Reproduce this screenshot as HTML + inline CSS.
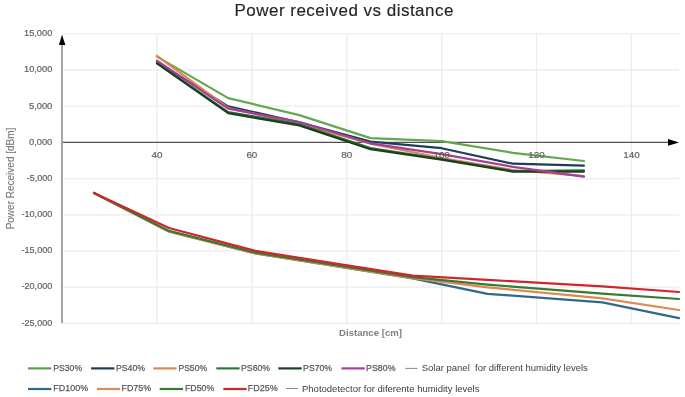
<!DOCTYPE html>
<html><head><meta charset="utf-8"><style>
html,body{margin:0;padding:0;background:#fff;}
body{width:685px;height:397px;overflow:hidden;}
svg{display:block;filter:blur(0.35px);}
text{font-family:"Liberation Sans",sans-serif;}
.tk{font-size:9.9px;fill:#5f5f5f;stroke:#5f5f5f;stroke-width:0.2px;}
.ti{font-size:17px;letter-spacing:0.48px;fill:#262626;stroke:#262626;stroke-width:0.15px;}
.at{font-size:9.6px;font-weight:bold;fill:#7f7f7f;}
.yt{font-size:10px;fill:#7a7a7a;stroke:#7a7a7a;stroke-width:0.15px;}
.lg{font-size:9.9px;fill:#595959;stroke:#595959;stroke-width:0.25px;}
.lg2{font-size:9.5px;fill:#404040;}
</style></head><body>
<svg width="685" height="397" viewBox="0 0 685 397">
<rect width="685" height="397" fill="#fff"/>
<line x1="62" y1="33.83" x2="679" y2="33.83" stroke="#ececec" stroke-width="1.3"/>
<line x1="62" y1="70.02" x2="679" y2="70.02" stroke="#ececec" stroke-width="1.3"/>
<line x1="62" y1="106.21" x2="679" y2="106.21" stroke="#ececec" stroke-width="1.3"/>
<line x1="62" y1="178.59" x2="679" y2="178.59" stroke="#ececec" stroke-width="1.3"/>
<line x1="62" y1="214.78" x2="679" y2="214.78" stroke="#ececec" stroke-width="1.3"/>
<line x1="62" y1="250.97" x2="679" y2="250.97" stroke="#ececec" stroke-width="1.3"/>
<line x1="62" y1="287.16" x2="679" y2="287.16" stroke="#ececec" stroke-width="1.3"/>
<line x1="62" y1="323.35" x2="679" y2="323.35" stroke="#ececec" stroke-width="1.3"/>
<line x1="157.00" y1="33.83" x2="157.00" y2="323.35" stroke="#ececec" stroke-width="1.3"/>
<line x1="251.88" y1="33.83" x2="251.88" y2="323.35" stroke="#ececec" stroke-width="1.3"/>
<line x1="346.76" y1="33.83" x2="346.76" y2="323.35" stroke="#ececec" stroke-width="1.3"/>
<line x1="441.64" y1="33.83" x2="441.64" y2="323.35" stroke="#ececec" stroke-width="1.3"/>
<line x1="536.52" y1="33.83" x2="536.52" y2="323.35" stroke="#ececec" stroke-width="1.3"/>
<line x1="631.40" y1="33.83" x2="631.40" y2="323.35" stroke="#ececec" stroke-width="1.3"/>
<line x1="62" y1="142.40" x2="669" y2="142.40" stroke="#505050" stroke-width="1.2"/>
<polygon points="668,139.1 679,142.4 668,145.7" fill="#000"/>
<line x1="62" y1="44" x2="62" y2="323.35" stroke="#a6a6a6" stroke-width="2"/>
<polygon points="62,34.8 58.9,45.1 65.4,45.1" fill="#000"/>
<polyline points="94.0,192.9 169.0,231.5 255.4,253.5 412.6,278.4 487.6,293.8 602.4,302.4 679.0,318.1" fill="none" stroke="#2f6a8c" stroke-width="2.2" stroke-linejoin="round" stroke-linecap="round"/>
<polyline points="94.0,192.9 169.0,231.6 255.4,253.5 412.6,278.1 487.6,287.3 602.4,298.4 679.0,310.0" fill="none" stroke="#df8a52" stroke-width="2.2" stroke-linejoin="round" stroke-linecap="round"/>
<polyline points="94.0,192.9 169.0,230.9 255.4,252.6 412.6,277.2 487.6,284.6 602.4,293.6 679.0,299.0" fill="none" stroke="#357a37" stroke-width="2.2" stroke-linejoin="round" stroke-linecap="round"/>
<polyline points="94.0,192.9 169.0,228.0 255.4,250.9 412.6,275.7 487.6,279.9 602.4,286.3 679.0,292.0" fill="none" stroke="#d0262b" stroke-width="2.2" stroke-linejoin="round" stroke-linecap="round"/>
<polyline points="157.0,56.6 228.2,98.1 299.3,115.1 370.5,138.1 441.6,141.2 512.8,152.8 583.9,161.0" fill="none" stroke="#63a84e" stroke-width="2.2" stroke-linejoin="round" stroke-linecap="round"/>
<polyline points="157.0,62.0 228.2,106.4 299.3,122.2 370.5,141.6 441.6,148.2 512.8,163.7 583.9,165.6" fill="none" stroke="#213c58" stroke-width="2.2" stroke-linejoin="round" stroke-linecap="round"/>
<polyline points="157.0,55.9 228.2,108.0 299.3,123.7 370.5,143.6 441.6,158.0 512.8,170.0 583.9,176.2" fill="none" stroke="#df8650" stroke-width="2.2" stroke-linejoin="round" stroke-linecap="round"/>
<polyline points="157.0,63.0 228.2,112.2 299.3,124.2 370.5,148.0 441.6,159.0 512.8,171.0 583.9,170.4" fill="none" stroke="#2f7a35" stroke-width="2.2" stroke-linejoin="round" stroke-linecap="round"/>
<polyline points="157.0,63.4 228.2,113.2 299.3,125.4 370.5,149.2 441.6,159.6 512.8,171.6 583.9,171.6" fill="none" stroke="#1c3f1f" stroke-width="2.2" stroke-linejoin="round" stroke-linecap="round"/>
<polyline points="157.0,60.6 228.2,108.6 299.3,122.0 370.5,143.3 441.6,154.2 512.8,166.8 583.9,176.7" fill="none" stroke="#a23e9e" stroke-width="2.2" stroke-linejoin="round" stroke-linecap="round"/>
<text x="52.3" y="36.13" text-anchor="end" class="tk" textLength="28.3" lengthAdjust="spacingAndGlyphs">15,000</text>
<text x="52.3" y="72.32" text-anchor="end" class="tk" textLength="28.3" lengthAdjust="spacingAndGlyphs">10,000</text>
<text x="52.3" y="108.51" text-anchor="end" class="tk" textLength="23.3" lengthAdjust="spacingAndGlyphs">5,000</text>
<text x="52.3" y="144.70" text-anchor="end" class="tk" textLength="23.3" lengthAdjust="spacingAndGlyphs">0,000</text>
<text x="52.3" y="180.89" text-anchor="end" class="tk" textLength="25.6" lengthAdjust="spacingAndGlyphs">-5,000</text>
<text x="52.3" y="217.08" text-anchor="end" class="tk" textLength="30.8" lengthAdjust="spacingAndGlyphs">-10,000</text>
<text x="52.3" y="253.27" text-anchor="end" class="tk" textLength="30.8" lengthAdjust="spacingAndGlyphs">-15,000</text>
<text x="52.3" y="289.46" text-anchor="end" class="tk" textLength="30.8" lengthAdjust="spacingAndGlyphs">-20,000</text>
<text x="52.3" y="325.65" text-anchor="end" class="tk" textLength="30.8" lengthAdjust="spacingAndGlyphs">-25,000</text>
<text x="157.00" y="158.2" text-anchor="middle" class="tk">40</text>
<text x="251.88" y="158.2" text-anchor="middle" class="tk">60</text>
<text x="346.76" y="158.2" text-anchor="middle" class="tk">80</text>
<text x="441.64" y="158.2" text-anchor="middle" class="tk">100</text>
<text x="536.52" y="158.2" text-anchor="middle" class="tk">120</text>
<text x="631.40" y="158.2" text-anchor="middle" class="tk">140</text>
<text x="370.5" y="336" text-anchor="middle" class="at">Distance [cm]</text>
<text transform="translate(14.2,178.5) rotate(-90)" text-anchor="middle" class="yt">Power Received [dBm]</text>
<text x="344.2" y="16" text-anchor="middle" class="ti">Power received vs distance</text>
<line x1="28.0" y1="368.4" x2="51.3" y2="368.4" stroke="#5f9e4a" stroke-width="2.2"/>
<text x="53.3" y="370.79999999999995" class="lg" textLength="28.8" lengthAdjust="spacingAndGlyphs">PS30%</text>
<line x1="91.1" y1="368.4" x2="114.39999999999999" y2="368.4" stroke="#213c58" stroke-width="2.2"/>
<text x="116.0" y="370.79999999999995" class="lg" textLength="29.0" lengthAdjust="spacingAndGlyphs">PS40%</text>
<line x1="153.3" y1="368.4" x2="176.60000000000002" y2="368.4" stroke="#df8650" stroke-width="2.2"/>
<text x="178.4" y="370.79999999999995" class="lg" textLength="28.7" lengthAdjust="spacingAndGlyphs">PS50%</text>
<line x1="216.3" y1="368.4" x2="239.60000000000002" y2="368.4" stroke="#2f7a35" stroke-width="2.2"/>
<text x="241.0" y="370.79999999999995" class="lg" textLength="29.1" lengthAdjust="spacingAndGlyphs">PS60%</text>
<line x1="278.3" y1="368.4" x2="301.6" y2="368.4" stroke="#1c3f1f" stroke-width="2.2"/>
<text x="303.1" y="370.79999999999995" class="lg" textLength="29.0" lengthAdjust="spacingAndGlyphs">PS70%</text>
<line x1="341.5" y1="368.4" x2="364.8" y2="368.4" stroke="#a23e9e" stroke-width="2.2"/>
<text x="366.0" y="370.79999999999995" class="lg" textLength="29.5" lengthAdjust="spacingAndGlyphs">PS80%</text>
<line x1="28.0" y1="389.0" x2="51.3" y2="389.0" stroke="#2f6a8c" stroke-width="2.2"/>
<text x="53.3" y="391.4" class="lg" textLength="34.9" lengthAdjust="spacingAndGlyphs">FD100%</text>
<line x1="96.9" y1="389.0" x2="120.2" y2="389.0" stroke="#df8a52" stroke-width="2.2"/>
<text x="121.5" y="391.4" class="lg" textLength="29.6" lengthAdjust="spacingAndGlyphs">FD75%</text>
<line x1="159.7" y1="389.0" x2="183.0" y2="389.0" stroke="#357a37" stroke-width="2.2"/>
<text x="185.0" y="391.4" class="lg" textLength="29.3" lengthAdjust="spacingAndGlyphs">FD50%</text>
<line x1="223.3" y1="389.0" x2="246.60000000000002" y2="389.0" stroke="#d0262b" stroke-width="2.2"/>
<text x="247.7" y="391.4" class="lg" textLength="30.0" lengthAdjust="spacingAndGlyphs">FD25%</text>
<line x1="405.3" y1="368.4" x2="417.6" y2="368.4" stroke="#7a7a7a" stroke-width="0.9"/>
<text x="421.7" y="370.9" class="lg2" xml:space="preserve">Solar panel&#160; for different humidity levels</text>
<line x1="285.9" y1="388.5" x2="298.3" y2="388.5" stroke="#7a7a7a" stroke-width="0.9"/>
<text x="302" y="391.6" class="lg2">Photodetector for diferente humidity levels</text>
</svg>
</body></html>
